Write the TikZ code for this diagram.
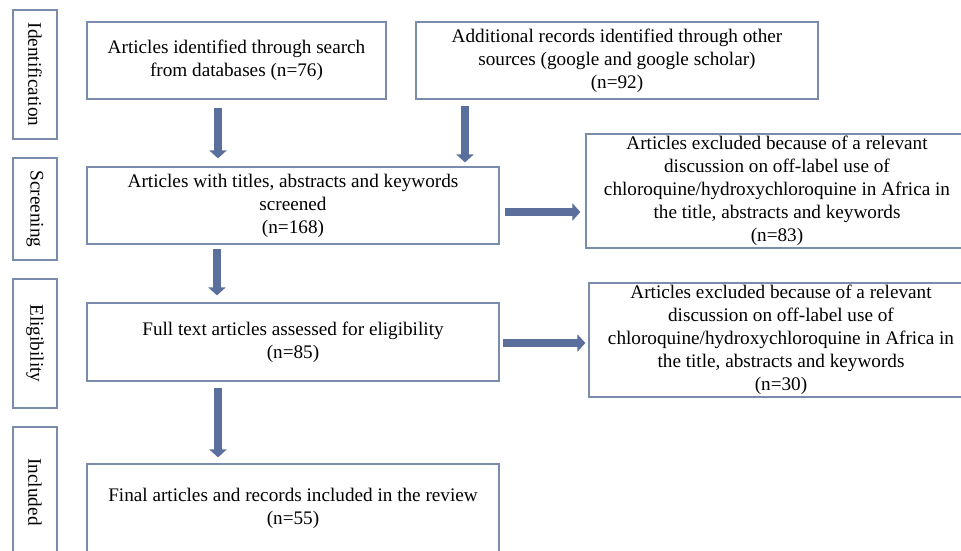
\documentclass[tikz,border=0pt]{standalone}
\usepackage{fontspec}
\setmainfont{Liberation Serif}
\usetikzlibrary{arrows.meta}
\definecolor{boxline}{RGB}{122,140,172}
\definecolor{arrowfill}{RGB}{91,111,156}

\begin{document}
\begin{tikzpicture}[x=1pt,y=-1pt,
  stage/.style={draw=boxline, line width=1.2pt, rotate=-90, minimum height=44pt,
    inner sep=0pt, font=\fontsize{19.2}{23}\selectfont},
  box/.style={draw=boxline, line width=1.2pt, align=center, inner sep=0pt,
    font=\fontsize{19.2}{23}\selectfont},
  flow/.style={draw=arrowfill, line width=7.5pt, -{Triangle[width=17pt,length=8pt]}}]
  \useasboundingbox (0,0) rectangle (961,550);

  % stages
  \foreach \n/\y/\h/\t in {
    ident/74.5/129/Identification,
    screen/209/102/Screening,
    elig/343.5/129/Eligibility,
    incl/492/130/Included
  } { \node[stage, minimum width=\h pt] (\n) at (35,\y) {\t}; }

  % identification
  \node[box, minimum width=299pt, minimum height=77pt] (search) at (236.5,60.5)
    {Articles identified through search\\from databases (n=76)};
  \node[box, minimum width=402pt, minimum height=77pt] (other) at (617,60.5)
    {Additional records identified through other\\sources (google and google scholar)\\(n=92)};
  % screening
  \node[box, minimum width=412pt, minimum height=77pt] (screened) at (293,205.5)
    {Articles with titles, abstracts and keywords\\screened\\(n=168)};
  \node[box, minimum width=382pt, minimum height=114pt] (excl1) at (777,191)
    {Articles excluded because of a relevant\\discussion on off-label use of\\chloroquine/hydroxychloroquine in Africa in\\the title, abstracts and keywords\\(n=83)};
  % eligibility
  \node[box, minimum width=412pt, minimum height=78pt] (full) at (293,342)
    {Full text articles assessed for eligibility\\(n=85)};
  \node[box, minimum width=384pt, minimum height=114pt] (excl2) at (781,340)
    {Articles excluded because of a relevant\\discussion on off-label use of\\chloroquine/hydroxychloroquine in Africa in\\the title, abstracts and keywords\\(n=30)};
  % included
  \node[box, minimum width=412pt, minimum height=88pt] (final) at (293,508)
    {Final articles and records included in the review\\(n=55)};

  % connections
  \draw[flow, shorten <=8pt, shorten >=8pt] ([xshift=-18.5pt]search.south)
    -- ([xshift=-18.5pt]search.south |- screened.north);
  \draw[flow, shorten <=6pt, shorten >=4pt] ([xshift=-152pt]other.south)
    -- ([xshift=-152pt]other.south |- screened.north);
  \draw[flow, shorten <=4pt, shorten >=7pt] ([xshift=-76pt]screened.south)
    -- ([xshift=-76pt]screened.south |- full.north);
  \draw[flow, shorten <=6pt, shorten >=6pt] ([xshift=-75pt]full.south)
    -- ([xshift=-75pt]full.south |- final.north);
  \draw[flow, shorten <=5pt, shorten >=5pt] ([yshift=-6.5pt]screened.east)
    -- ([yshift=-6.5pt]screened.east -| excl1.west);
  \draw[flow, shorten <=3pt, shorten >=3pt] ([yshift=-1pt]full.east)
    -- ([yshift=-1pt]full.east -| excl2.west);
\end{tikzpicture}
\end{document}
